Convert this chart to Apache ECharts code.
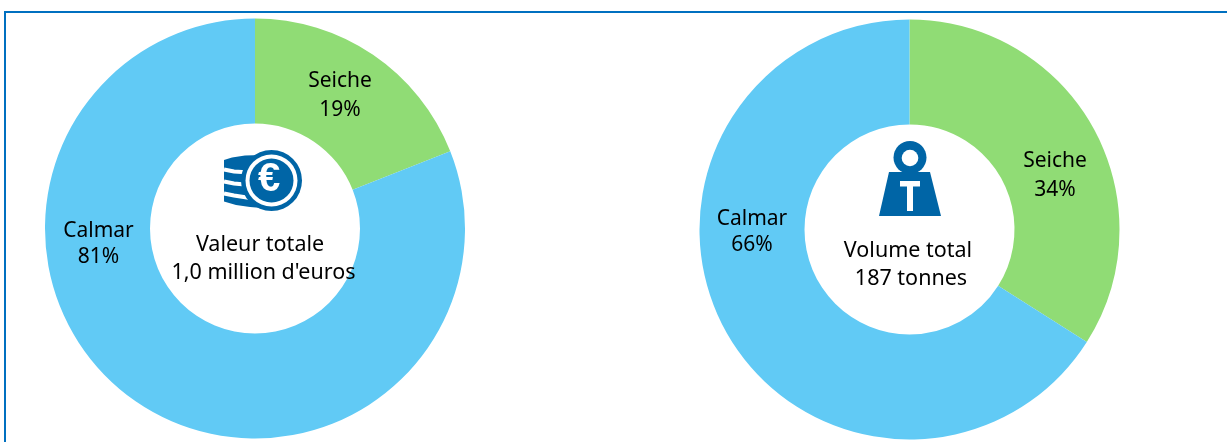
<!DOCTYPE html>
<html>
<head>
<meta charset="utf-8">
<style>
html, body { margin: 0; padding: 0; background: #fff; }
#chart { width: 1227px; height: 442px; }
</style>
</head>
<body>
<div id="chart"></div>
<script src="https://cdn.jsdelivr.net/npm/echarts@6/dist/echarts.min.js"></script>
<script>
var categories = ['Seiche', 'Calmar'];
var valeurPct = [19, 81];
var volumePct = [34, 66];
var colors = ['#90dc75', '#61caf5'];
var valeurCaption = ['Valeur totale', '1,0 million d\'euros'];
var volumeCaption = ['Volume total', '187 tonnes'];

var FONT = '"Noto Sans", sans-serif';
var BLUE = '#0065a6';
var labelLineHeights = [29, 26];

var myChart = echarts.init(document.getElementById('chart'));

function makePie(values, center, labelPos) {
    return {
        type: 'pie',
        radius: [105, 210],
        center: center,
        startAngle: 90,
        clockwise: true,
        silent: true,
        data: categories.map(function (c, i) {
            return {
                name: c,
                value: values[i],
                itemStyle: { color: colors[i] },
                label: { lineHeight: labelLineHeights[i] }
            };
        }),
        label: {
            position: 'inside',
            formatter: '{b}\n{c}%',
            color: '#000',
            fontFamily: FONT,
            fontSize: 21,
            align: 'center',
            verticalAlign: 'middle'
        },
        labelLine: { show: false },
        labelLayout: function (params) {
            return {
                x: labelPos[params.dataIndex][0],
                y: labelPos[params.dataIndex][1],
                align: 'center',
                verticalAlign: 'middle'
            };
        },
        itemStyle: { borderWidth: 0 }
    };
}

function caption(text, x, y) {
    return {
        type: 'text',
        x: x,
        y: y,
        z: 10,
        style: {
            text: text,
            fill: '#000',
            font: '21.5px ' + FONT,
            align: 'center',
            verticalAlign: 'middle'
        }
    };
}

// pile of coins with the euro coin in front
function coinIcon() {
    var gaps = [
        [[224, 169.5], [234, 171.5], [250, 172.5]],
        [[224, 181.5], [234, 183.5], [250, 185]],
        [[224, 193.5], [234, 195.5], [250, 198]]
    ];
    var els = [{
        type: 'polygon', z: 10,
        shape: { points: [[224, 160], [232, 157.5], [245, 155.5], [262, 155], [262, 208], [250, 207], [236, 205], [224, 201.5]] },
        style: { fill: BLUE }
    }];
    gaps.forEach(function (g) {
        els.push({ type: 'polyline', z: 10, shape: { points: g }, style: { stroke: '#fff', lineWidth: 4, fill: 'none' } });
    });
    return els.concat([
        { type: 'circle', z: 11, shape: { cx: 271.5, cy: 180.5, r: 30.5 }, style: { fill: BLUE } },
        { type: 'circle', z: 11, shape: { cx: 271.5, cy: 180.5, r: 26 }, style: { fill: '#fff' } },
        { type: 'circle', z: 11, shape: { cx: 271.5, cy: 180.5, r: 22 }, style: { fill: BLUE } },
        {
            type: 'text', z: 12, x: 269, y: 180,
            style: { text: '€', fill: '#fff', font: 'bold 40px "Liberation Sans"', align: 'center', verticalAlign: 'middle' }
        }
    ]);
}

function weightIcon() {
    return [
        { type: 'circle', z: 10, shape: { cx: 910, cy: 157.5, r: 16.5 }, style: { fill: BLUE } },
        { type: 'circle', z: 11, shape: { cx: 910, cy: 158, r: 8.3 }, style: { fill: '#fff' } },
        { type: 'polygon', z: 10, shape: { points: [[889, 172], [930, 172], [941, 216], [879, 216]] }, style: { fill: BLUE } },
        { type: 'rect', z: 11, shape: { x: 900, y: 181, width: 20, height: 5.5 }, style: { fill: '#fff' } },
        { type: 'rect', z: 11, shape: { x: 907, y: 181, width: 6, height: 30 }, style: { fill: '#fff' } }
    ];
}

var option = {
    animation: false,
    backgroundColor: '#fff',
    series: [
        makePie(valeurPct, [255, 228.5], [[340, 96], [98.5, 244]]),
        makePie(volumePct, [909.5, 229.5], [[1055, 175.5], [752, 232]])
    ],
    graphic: [
        { type: 'rect', z: 20, shape: { x: 4, y: 11, width: 1223, height: 2 }, style: { fill: '#0070c0' } },
        { type: 'rect', z: 20, shape: { x: 4, y: 11, width: 2, height: 431 }, style: { fill: '#0070c0' } },
        caption(valeurCaption[0], 260, 245),
        caption(valeurCaption[1], 263.5, 273),
        caption(volumeCaption[0], 908, 250.5),
        caption(volumeCaption[1], 911, 278.5)
    ].concat(coinIcon(), weightIcon())
};
myChart.setOption(option);
window.addEventListener('resize', function () {
    myChart.resize();
});
</script>
</body>
</html>
